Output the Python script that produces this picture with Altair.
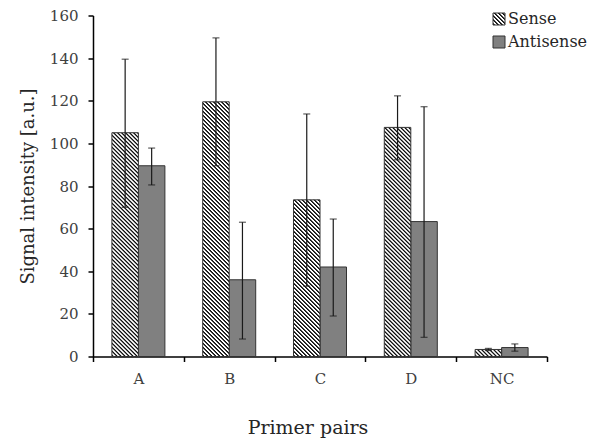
import math
import altair as alt
import pandas as pd

# ---- data ----
categories = ["A", "B", "C", "D", "NC"]
series = ["Sense", "Antisense"]
sense_mean = [105.0, 119.5, 73.5, 107.5, 3.3]
sense_low = [70.0, 89.5, 33.0, 92.3, 2.8]
sense_high = [139.5, 149.5, 113.8, 122.3, 3.8]
anti_mean = [89.5, 36.0, 42.0, 63.3, 4.2]
anti_low = [80.5, 8.2, 19.0, 9.0, 2.5]
anti_high = [97.8, 63.0, 64.5, 117.2, 5.9]
y_ticks = [0, 20, 40, 60, 80, 100, 120, 140, 160]

rows = []
for i, c in enumerate(categories):
    rows.append({"cat": c, "series": "Sense", "v": sense_mean[i], "lo": sense_low[i], "hi": sense_high[i]})
    rows.append({"cat": c, "series": "Antisense", "v": anti_mean[i], "lo": anti_low[i], "hi": anti_high[i]})
df = pd.DataFrame(rows)

# ---- layout / style ----
W, H = 454, 341
YMAX = 160
PX_PER_UNIT = H / YMAX
PO = 0.713  # outer padding of the sub-band scale
BAR_W = W / len(categories) / (2 + 2 * PO)
FONT = "DejaVu Serif"
EDGE = "#333333"
ANTI = "#808080"
PERIOD = 4.0      # hatch period along (x + height), px
INK = 1.8         # ink width (box) along (x + height), px
RAMP = 1.0        # soft edge so pixel sampling stays even
MAX_PIECE_PX = 60.0
OVERLAP_PX = 0.8
DARK_RGB = (17, 17, 17)
LIGHT_RGB = (255, 255, 255)


def _mix(a):
    return "#%02x%02x%02x" % tuple(
        int(round(LIGHT_RGB[k] + (DARK_RGB[k] - LIGHT_RGB[k]) * a)) for k in range(3)
    )


def _ink(u):
    """Ink amount (0..1) of the periodic trapezoid profile at position u."""
    q = u % PERIOD
    down = INK + RAMP
    if q < RAMP:
        return q / RAMP
    if q < INK:
        return 1.0
    if q < down:
        return (down - q) / RAMP
    return 0.0


def hatch(h_px, w_px, phase=0.0):
    """Diagonal '\\' hatch as a linear gradient (45 deg in pixel space).
    Gradient parameter is t = (x + height_from_bottom) / (w + h)."""
    L = w_px + h_px
    r = h_px / w_px
    k = (1 + r) / (1 + r * r)
    pts = {0.0, L}
    m = math.floor(phase / PERIOD) - 1
    while True:
        s = m * PERIOD - phase
        if s > L:
            break
        for b in (s, s + RAMP, s + INK, s + INK + RAMP):
            if 0 < b < L:
                pts.add(b)
        m += 1
    stops = []
    for u in sorted(pts):
        stops.append({"offset": round(u / L, 5), "color": _mix(_ink(u + phase))})
    return {
        "gradient": "linear",
        "x1": 0, "y1": 1,
        "x2": round(k, 5), "y2": round(1 - k * r, 5),
        "stops": stops,
    }


x_enc = alt.X(
    "cat:N",
    sort=categories,
    scale=alt.Scale(domain=categories, paddingInner=0, paddingOuter=0),
    axis=alt.Axis(
        title="Primer pairs",
        labelAngle=0,
        tickBand="extent",
        labelFontSize=15,
        labelColor="#404040",
        labelPadding=10,
        tickSize=5,
        titleFontSize=19,
        titleFontWeight="normal",
        titleColor="#262626",
        titlePadding=32,
        titleX=214.5,
    ),
)
xo_enc = alt.XOffset(
    "series:N",
    sort=series,
    scale=alt.Scale(domain=series, paddingInner=0, paddingOuter=PO),
)
y_scale = alt.Scale(domain=[0, YMAX], nice=False)
y_enc = alt.Y(
    "v:Q",
    scale=y_scale,
    axis=alt.Axis(
        title="Signal intensity [a.u.]",
        values=y_ticks,
        labelFontSize=15,
        labelColor="#404040",
        labelPadding=10,
        tickSize=5,
        titleFontSize=18,
        titleFontWeight="normal",
        titleColor="#262626",
        titlePadding=12,
    ),
)

base = alt.Chart(df)

anti_bars = base.transform_filter(alt.datum.series == "Antisense").mark_bar(
    fill=ANTI, stroke=EDGE, strokeWidth=1
).encode(x=x_enc, xOffset=xo_enc, y=y_enc)

layers = [anti_bars]

# hatched sense bars, each split into short stacked pieces (phase-continuous)
for i, c in enumerate(categories):
    h_px = sense_mean[i] * PX_PER_UNIT
    n = max(1, math.ceil(h_px / MAX_PIECE_PX))
    ov = OVERLAP_PX / PX_PER_UNIT
    for j in range(n):
        last = j == n - 1
        f0, f1 = j / n, (j + 1) / n
        piece_px = h_px / n + (0 if last else OVERLAP_PX)
        phase = h_px * f0
        top_expr = "datum.v" if last else f"datum.v * {f1} + {ov}"
        layers.append(
            base.transform_filter(
                (alt.datum.series == "Sense") & (alt.datum.cat == c)
            )
            .transform_calculate(p0=f"datum.v * {f0}", p1=top_expr)
            .mark_bar(fill=hatch(piece_px, BAR_W, phase=phase), strokeWidth=0)
            .encode(
                x=x_enc,
                xOffset=xo_enc,
                y=alt.Y("p1:Q", scale=y_scale),
                y2="p0:Q",
            )
        )

sense_outline = base.transform_filter(alt.datum.series == "Sense").mark_bar(
    fill="transparent", stroke=EDGE, strokeWidth=1
).encode(x=x_enc, xOffset=xo_enc, y=y_enc)
layers.append(sense_outline)

err = base.mark_rule(color="#1a1a1a", strokeWidth=1.2).encode(
    x=x_enc, xOffset=xo_enc, y="lo:Q", y2="hi:Q"
)
cap_hi = base.mark_tick(color="#1a1a1a", thickness=1.2, size=7).encode(
    x=x_enc, xOffset=xo_enc, y="hi:Q"
)
cap_lo = base.mark_tick(color="#1a1a1a", thickness=1.2, size=7).encode(
    x=x_enc, xOffset=xo_enc, y="lo:Q"
)
layers += [err, cap_hi, cap_lo]

# ---- legend (small guide in the top-right corner) ----
leg_sense = pd.DataFrame({"label": [series[0]]})
leg_anti = pd.DataFrame({"label": [series[1]]})
LX, LS = 400, 12
LY1, LY2 = -2.5, 20.5
legend_layers = [
    alt.Chart(leg_sense).mark_rect(fill=hatch(LS, LS), stroke=EDGE, strokeWidth=1).encode(
        x=alt.value(LX), x2=alt.value(LX + LS), y=alt.value(LY1), y2=alt.value(LY1 + LS)
    ),
    alt.Chart(leg_anti).mark_rect(fill=ANTI, stroke=EDGE, strokeWidth=1).encode(
        x=alt.value(LX), x2=alt.value(LX + LS), y=alt.value(LY2), y2=alt.value(LY2 + LS)
    ),
    alt.Chart(leg_sense).mark_text(
        align="left", baseline="middle", font=FONT, fontSize=16, color="#262626"
    ).encode(x=alt.value(LX + LS + 3), y=alt.value(LY1 + LS / 2), text="label:N"),
    alt.Chart(leg_anti).mark_text(
        align="left", baseline="middle", font=FONT, fontSize=16, color="#262626"
    ).encode(x=alt.value(LX + LS + 3), y=alt.value(LY2 + LS / 2), text="label:N"),
]
layers += legend_layers

chart = (
    alt.layer(*layers)
    .properties(
        width=W,
        height=H,
        autosize="none",
        padding={"left": 93, "top": 15.5, "right": 48, "bottom": 86.5},
    )
    .configure_view(stroke=None)
    .configure_axis(
        domainColor="#000000",
        domainWidth=1.5,
        tickColor="#000000",
        tickWidth=1.5,
        grid=False,
        labelFont=FONT,
        titleFont=FONT,
    )
)

chart.save("out.html", embed_options={"renderer": "svg", "actions": False})
